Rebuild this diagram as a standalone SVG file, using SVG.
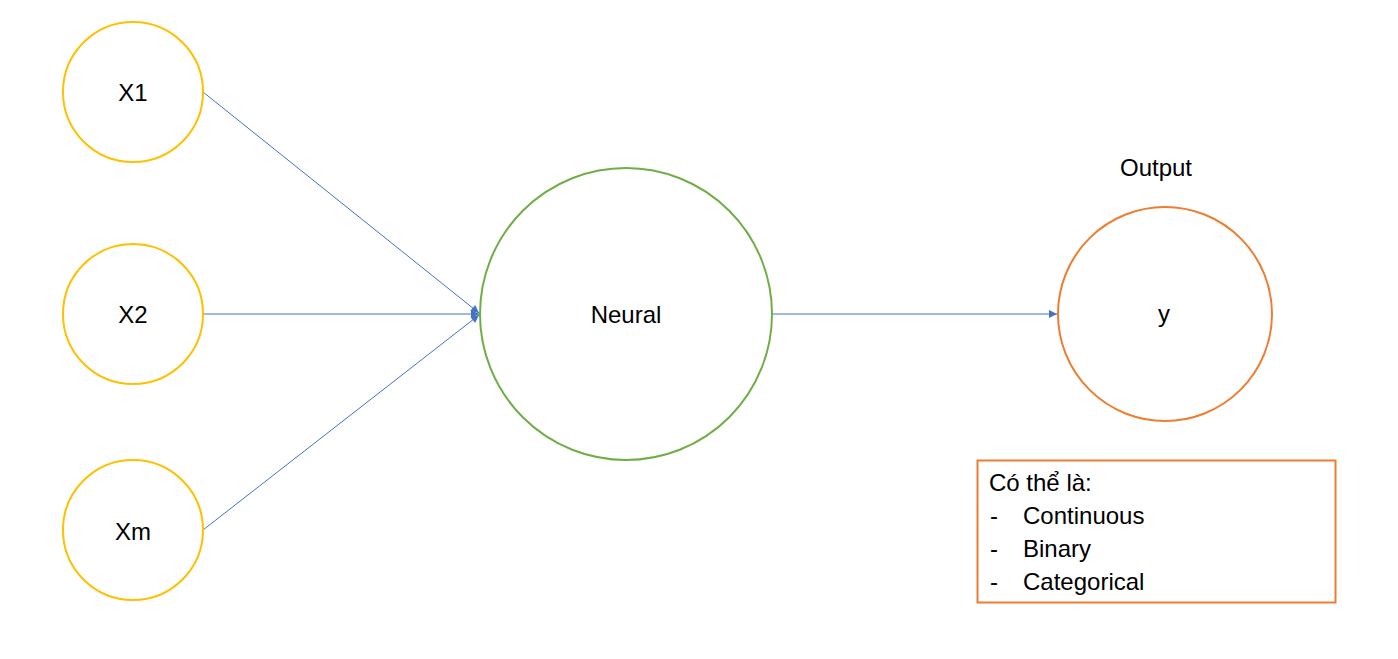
<svg xmlns="http://www.w3.org/2000/svg" width="1398" height="659" viewBox="0 0 1398 659">
<style>
.in{fill:#fff;stroke:#FFC000;stroke-width:2}
.t{font-family:"Liberation Sans",Arial,sans-serif;font-size:24px;fill:#000}
.c{text-anchor:middle}
.ln{stroke:#4472C4;stroke-width:1;fill:none;marker-end:url(#ah)}
</style>
<defs>
<marker id="ah" viewBox="0 0 10 10" refX="10" refY="5" markerWidth="10" markerHeight="8" markerUnits="userSpaceOnUse" orient="auto">
<path d="M0,0 L10,5 L0,10 z" fill="#4472C4"/>
</marker>
</defs>
<rect width="1398" height="659" fill="#fff"/>
<g id="connectors">
<line class="ln" x1="203" y1="92" x2="479" y2="313"/>
<line class="ln" x1="203" y1="314" x2="479" y2="314"/>
<line class="ln" x1="203" y1="530" x2="479" y2="315"/>
<line class="ln" x1="772" y1="314" x2="1057" y2="314"/>
</g>
<g id="x1"><circle class="in" cx="133" cy="92" r="70"/><text class="t c" x="133" y="101">X1</text></g>
<g id="x2"><circle class="in" cx="133" cy="314" r="70"/><text class="t c" x="133" y="323">X2</text></g>
<g id="xm"><circle class="in" cx="133" cy="530" r="70"/><text class="t c" x="133" y="540">Xm</text></g>
<g id="neural"><circle cx="626" cy="314" r="146" fill="#fff" stroke="#70AD47" stroke-width="2"/><text class="t c" x="626" y="323">Neural</text></g>
<g id="output"><circle cx="1165" cy="314" r="107" fill="#fff" stroke="#ED7D31" stroke-width="2"/><text class="t c" x="1164" y="322">y</text><text class="t c" x="1156" y="176">Output</text></g>
<g id="note">
<rect x="977.5" y="460.5" width="358" height="142" fill="#fff" stroke="#ED7D31" stroke-width="2"/>
<text class="t" x="989" y="491">Có thể là:</text>
<text class="t" x="990" y="524">-</text><text class="t" x="1023" y="524">Continuous</text>
<text class="t" x="990" y="557">-</text><text class="t" x="1023" y="557">Binary</text>
<text class="t" x="990" y="590">-</text><text class="t" x="1023" y="590">Categorical</text>
</g>
</svg>
